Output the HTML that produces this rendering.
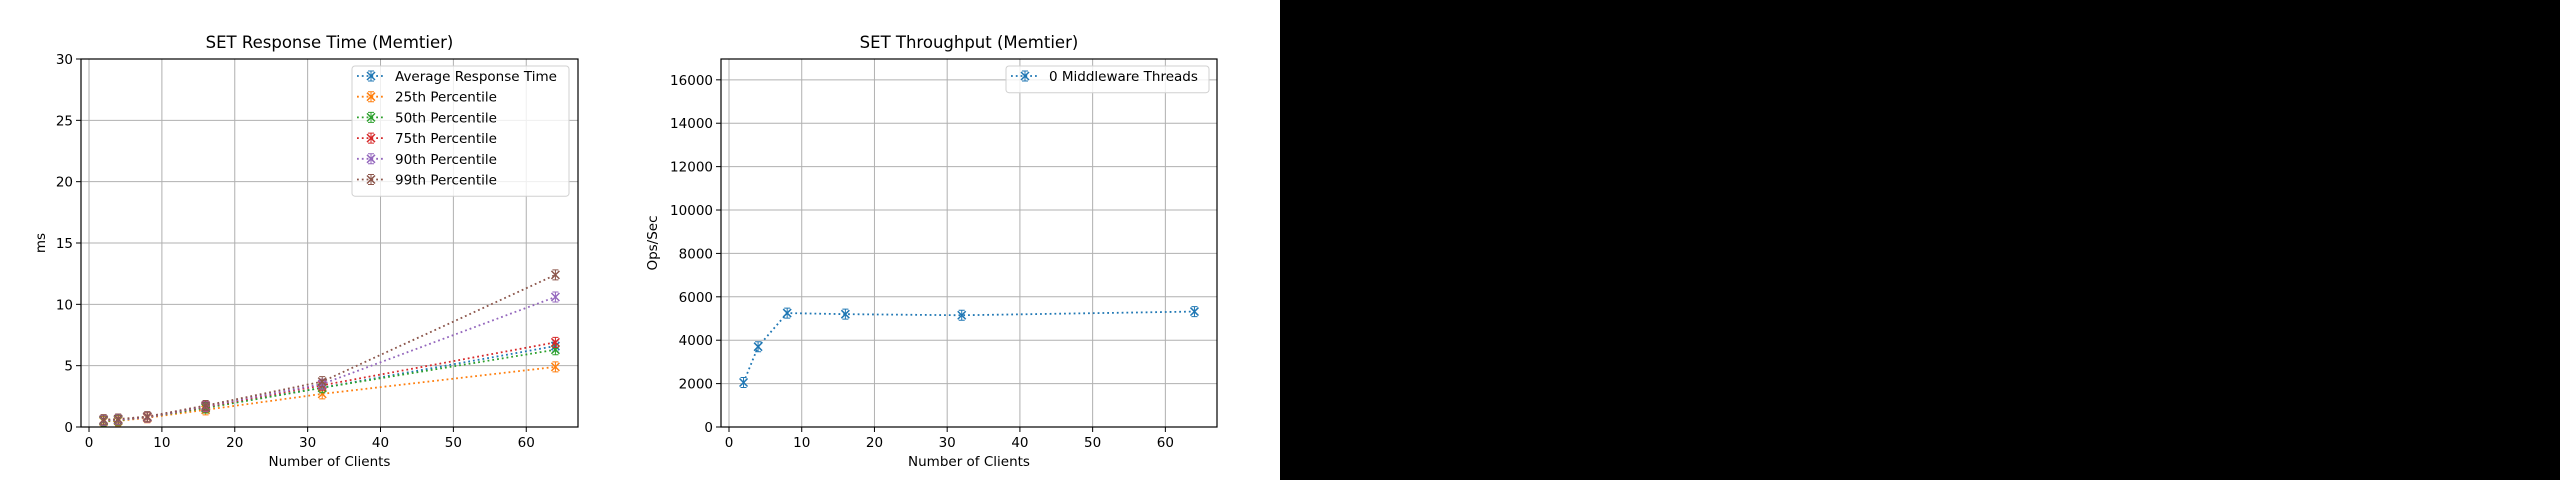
<!DOCTYPE html>
<html><head><meta charset="utf-8"><style>
html,body{margin:0;padding:0;background:#fff;}
body{width:2560px;height:480px;overflow:hidden;position:relative;font-family:"DejaVu Sans","Liberation Sans",sans-serif;}
#blk{position:absolute;left:1280px;top:0;width:1280px;height:480px;background:#000;}
</style></head><body>
<svg id="chart" width="1280" height="480" style="position:absolute;left:0;top:0" xmlns="http://www.w3.org/2000/svg"></svg>
<div id="blk"></div>
<script>
const clients = [2, 4, 8, 16, 32, 64];
const avgRT = [0.5, 0.55, 0.8, 1.6, 3.2, 6.6];
const p25 = [0.45, 0.5, 0.75, 1.4, 2.7, 4.9];
const p50 = [0.5, 0.55, 0.8, 1.55, 3.2, 6.3];
const p75 = [0.55, 0.6, 0.8, 1.65, 3.4, 6.9];
const p90 = [0.55, 0.6, 0.8, 1.7, 3.5, 10.6];
const p99 = [0.6, 0.65, 0.85, 1.75, 3.7, 12.4];
const throughput = [2050, 3700, 5250, 5200, 5150, 5320];
const xTicks = [0, 10, 20, 30, 40, 50, 60];
const yTicksRT = [0, 5, 10, 15, 20, 25, 30];
const yTicksTP = [0, 2000, 4000, 6000, 8000, 10000, 12000, 14000, 16000];
const seriesNames = ["Average Response Time", "25th Percentile", "50th Percentile", "75th Percentile", "90th Percentile", "99th Percentile"];
const colors = ["#1f77b4", "#ff7f0e", "#2ca02c", "#d62728", "#9467bd", "#8c564b"];
const tpName = ["0 Middleware Threads"];

const NS = "http://www.w3.org/2000/svg";
const svg = document.getElementById('chart');
function mk(tag, attrs, parent, text) {
  const e = document.createElementNS(NS, tag);
  for (const k in attrs) e.setAttribute(k, attrs[k]);
  if (text !== undefined) e.textContent = text;
  (parent || svg).appendChild(e);
  return e;
}
function marker(g, x, y, c) {
  const s = 4;
  mk('path', {d: `M${x-s},${y-s}L${x+s},${y+s}M${x-s},${y+s}L${x+s},${y-s}`, stroke: c, 'stroke-width': 1.5, fill: 'none'}, g);
  mk('path', {d: `M${x},${y-5}V${y+5}M${x-3},${y-5}H${x+3}M${x-3},${y+5}H${x+3}`, stroke: c, 'stroke-width': 1, fill: 'none'}, g);
}
function axes(cfg) {
  const {L, R, T, B, xmin, xmax, ymax, yTicks, title, ylabel, name} = cfg;
  const sx = v => L + (v - xmin) / (xmax - xmin) * (R - L);
  const sy = v => B - v / ymax * (B - T);
  const g = mk('g', {});
  
  
  // grid
  xTicks.forEach(t => {
    const x = sx(t);
    const gl = mk('line', {x1: x, x2: x, y1: T, y2: B, stroke: '#b0b0b0', 'stroke-width': 1}, g);
    
    
    mk('line', {x1: x, x2: x, y1: B, y2: B + 5, stroke: '#000', 'stroke-width': 1}, g);
    const tl = mk('text', {x: x, y: B + 20, 'text-anchor': 'middle', 'font-size': 13.5, fill: '#000'}, g, String(t));
    
    
  });
  yTicks.forEach(t => {
    const y = sy(t);
    const gl = mk('line', {x1: L, x2: R, y1: y, y2: y, stroke: '#b0b0b0', 'stroke-width': 1}, g);
    
    
    mk('line', {x1: L - 5, x2: L, y1: y, y2: y, stroke: '#000', 'stroke-width': 1}, g);
    const tl = mk('text', {x: L - 8, y: y + 5, 'text-anchor': 'end', 'font-size': 13.5, fill: '#000'}, g, String(t));
    
    
  });
  const tt = mk('text', {x: (L + R) / 2, y: 48, 'text-anchor': 'middle', 'font-size': 16.5, fill: '#000'}, g, title);
  
  
  const xl = mk('text', {x: (L + R) / 2, y: 466, 'text-anchor': 'middle', 'font-size': 13.5, fill: '#000'}, g, 'Number of Clients');
  
  
  return {g, sx, sy, L, R, T, B};
}
function frame(a) {
  const f = mk('rect', {x: a.L, y: a.T, width: a.R - a.L, height: a.B - a.T, fill: 'none', stroke: '#000', 'stroke-width': 1.2}, a.g);
  
  
}
function drawSeries(a, vals, c, nm) {
  const sg = mk('g', {}, a.g);
  
  
  const pts = clients.map((x, i) => `${a.sx(x)},${a.sy(vals[i])}`).join(' ');
  mk('polyline', {points: pts, fill: 'none', stroke: c, 'stroke-width': 1.8, 'stroke-dasharray': '1.8,3'}, sg);
  clients.forEach((x, i) => marker(sg, a.sx(x), a.sy(vals[i]), c));
}
function legend(a, x, y, w, names, cols, rowH, nm) {
  const lg = mk('g', {}, a.g);
  
  
  mk('rect', {x: x, y: y, width: w, height: names.length * rowH + 6, rx: 3, fill: 'rgba(255,255,255,0.8)', stroke: '#d0d0d0', 'stroke-width': 1}, lg);
  names.forEach((n, i) => {
    const cy = y + 10 + i * rowH;
    const e = mk('g', {}, lg);
    
    
    mk('line', {x1: x + 5, x2: x + 33, y1: cy, y2: cy, stroke: cols[i], 'stroke-width': 1.8, 'stroke-dasharray': '1.8,3'}, e);
    marker(e, x + 19, cy, cols[i]);
    mk('text', {x: x + 43, y: cy + 5, 'font-size': 13.5, fill: '#000'}, e, n);
  });
}
// left chart
const A = axes({L: 81, R: 578, T: 59, B: 427, xmin: -1.1, xmax: 67.1, ymax: 30, yTicks: yTicksRT, title: 'SET Response Time (Memtier)', name: 'response-time-chart'});
const yl1 = mk('text', {x: 45, y: 243, 'text-anchor': 'middle', 'font-size': 13.5, fill: '#000', transform: 'rotate(-90 45 243)'}, A.g, 'ms');


const allSeries = [avgRT, p25, p50, p75, p90, p99];
allSeries.forEach((s, i) => drawSeries(A, s, colors[i], 'series-' + seriesNames[i].toLowerCase().replace(/ /g, '-')));
legend(A, 352, 66, 217, seriesNames, colors, 20.7, 'legend');
frame(A);
// right chart
const B2 = axes({L: 721, R: 1217, T: 59, B: 427, xmin: -1.1, xmax: 67.1, ymax: 16960, yTicks: yTicksTP, title: 'SET Throughput (Memtier)', name: 'throughput-chart'});
const yl2 = mk('text', {x: 657, y: 243, 'text-anchor': 'middle', 'font-size': 13.5, fill: '#000', transform: 'rotate(-90 657 243)'}, B2.g, 'Ops/Sec');


drawSeries(B2, throughput, colors[0], 'series-throughput');
legend(B2, 1006, 66, 203, tpName, [colors[0]], 20.7, 'legend');
frame(B2);
</script>
</body></html>
